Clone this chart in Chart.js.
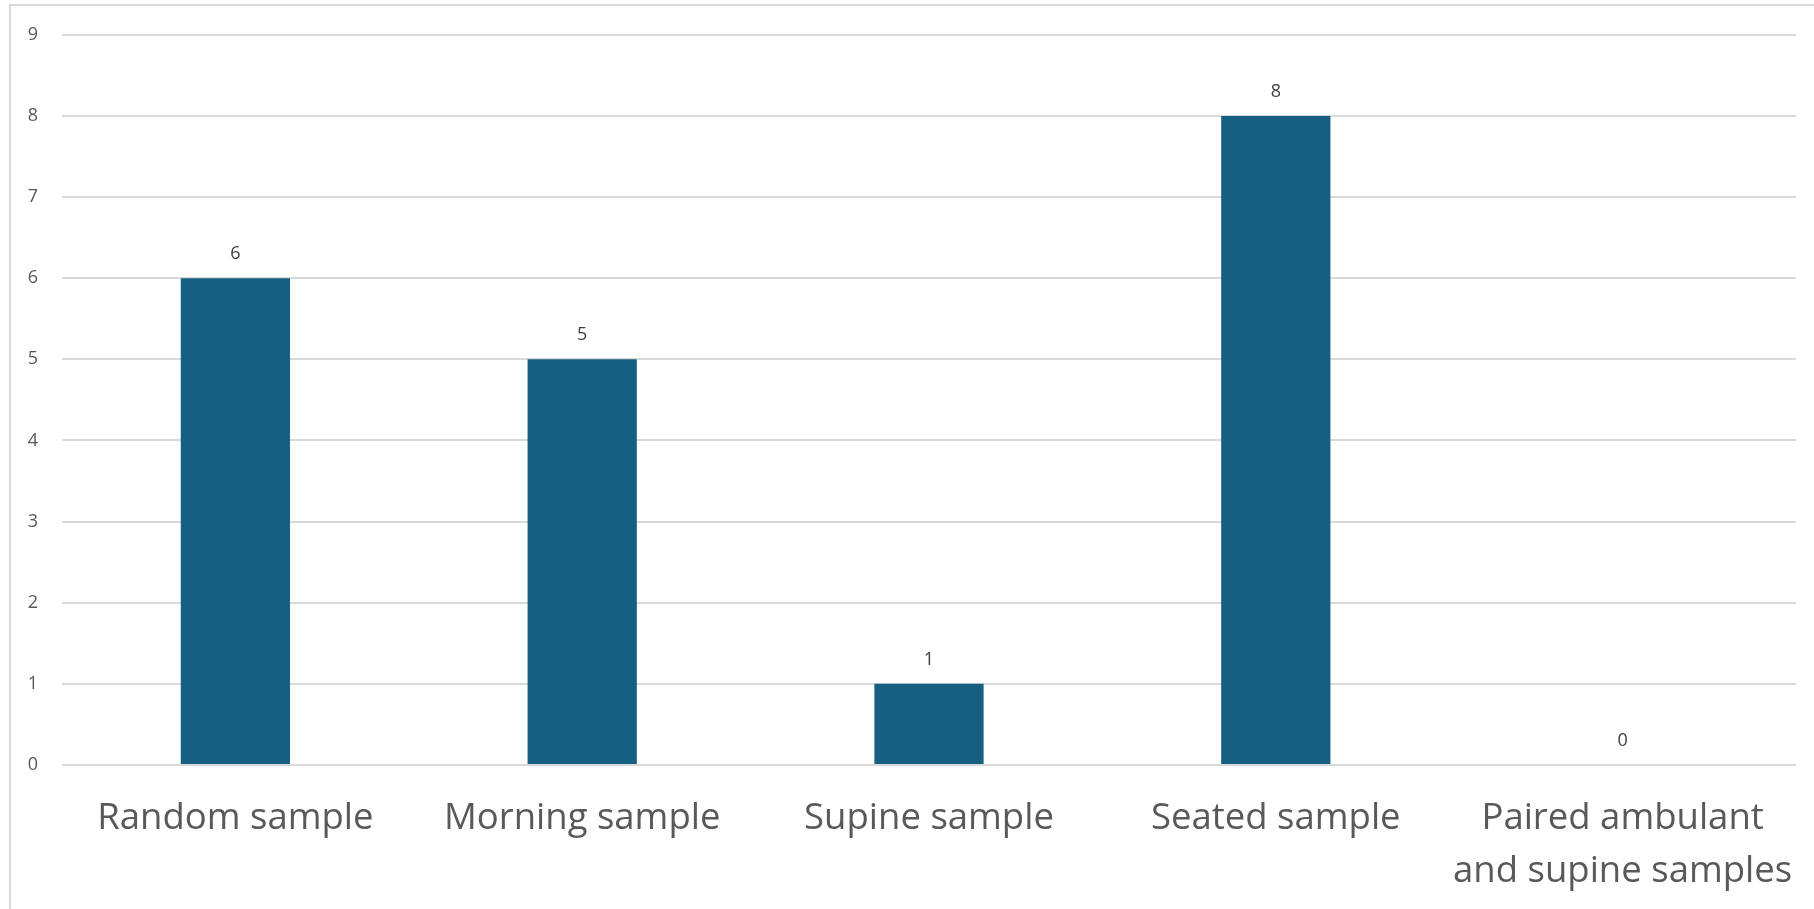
<!DOCTYPE html>
<html>
<head>
<meta charset="utf-8">
<script src="https://cdn.jsdelivr.net/npm/chart.js@4/dist/chart.umd.min.js"></script>
<style>
  html, body { margin: 0; padding: 0; background: #ffffff; overflow: hidden; }
  #frame { position: absolute; left: 9px; top: 4px; width: 3000px; height: 3000px;
           border-left: 2px solid #d9d9d9; border-top: 2px solid #d9d9d9; }
  #wrap { position: absolute; left: 0; top: 0; width: 1814px; height: 909px; }
</style>
</head>
<body>
<div id="frame"></div>
<div id="wrap"><canvas id="c" width="1814" height="909"></canvas></div>
<script>
const categories = ["Random sample", "Morning sample", "Supine sample", "Seated sample", ["Paired ambulant", "and supine samples"]];
const values = [6, 5, 1, 8, 0];
const yTicks = [0, 1, 2, 3, 4, 5, 6, 7, 8, 9];

const valueLabels = {
  id: 'valueLabels',
  afterDatasetsDraw(chart) {
    const ctx = chart.ctx;
    const meta = chart.getDatasetMeta(0);
    ctx.save();
    ctx.font = '18px "Open Sans", sans-serif';
    ctx.fillStyle = '#404040';
    ctx.textAlign = 'center';
    ctx.textBaseline = 'middle';
    meta.data.forEach((bar, i) => {
      ctx.fillText(String(values[i]), bar.x, bar.y - 24);
    });
    ctx.restore();
  }
};

new Chart(document.getElementById('c'), {
  type: 'bar',
  data: {
    labels: categories,
    datasets: [{
      data: values,
      backgroundColor: '#165F82',
      borderWidth: 0,
      barPercentage: 0.315,
      categoryPercentage: 1.0
    }]
  },
  options: {
    responsive: false,
    animation: false,
    layout: { padding: { top: 34, right: 18, left: 0, bottom: 0 } },
    plugins: { legend: { display: false }, tooltip: { enabled: false } },
    scales: {
      x: {
        grid: { display: false, drawTicks: false },
        border: { display: false },
        ticks: {
          color: '#595959',
          font: { family: '"Open Sans", sans-serif', size: 36.5, lineHeight: 1.43 },
          padding: 28,
          maxRotation: 0,
          autoSkip: false
        },
        afterFit(scale) {
          scale.height = 144;
          scale.paddingLeft = 0;
          scale.paddingRight = 0;
        }
      },
      y: {
        min: 0, max: 9,
        afterBuildTicks(scale) { scale.ticks = yTicks.map(v => ({ value: v })); },
        grid: { color: '#d9d9d9', lineWidth: 2, drawTicks: false },
        border: { display: false },
        ticks: {
          color: '#595959',
          font: { family: '"Open Sans", sans-serif', size: 18 },
          padding: 24
        },
        afterFit(scale) { scale.width = 62; }
      }
    }
  },
  plugins: [valueLabels]
});
</script>
</body>
</html>
